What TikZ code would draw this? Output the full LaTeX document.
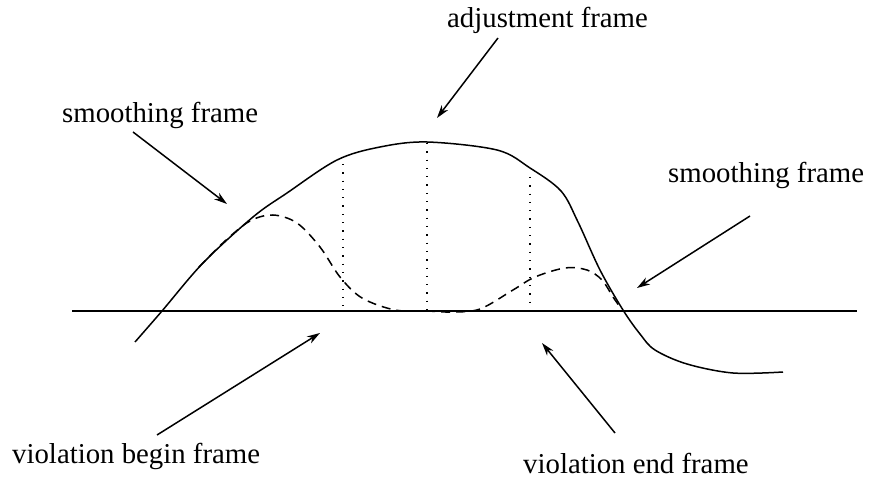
\documentclass[tikz,border=0pt]{standalone}
\usepackage{fontspec}
\setmainfont{Liberation Serif}
\usetikzlibrary{arrows.meta}
\tikzset{
  lbl/.style={inner sep=0pt, anchor=base west, font=\fontsize{28.9}{32}\selectfont},
  pointer/.style={line width=1.5bp, -{Stealth[length=13bp,width=8bp,inset=4bp]}},
  curve/.style={line width=1.5bp},
  dashcurve/.style={line width=1.5bp, dash pattern=on 9bp off 6bp},
  dotline/.style={line width=1.5bp, dash pattern=on 1.3bp off 7bp},
}
\begin{document}
\begin{tikzpicture}[x=1bp,y=-1bp]
\useasboundingbox (0,0) rectangle (869,480);
% axis
\coordinate (axL) at (72,311);
\coordinate (axR) at (857,311);
\draw[curve] (axL) -- (axR);
% solid curve
\draw[curve] plot[smooth, tension=0.55] coordinates {
 (135,342) (162,311) (203,263) (253,217) (287,193) (337,160) (380,147) (427,142)
 (497,150) (530,168) (561,191) (578,222) (600,270) (623,310) (640,334) (655,350)
 (687,364) (733,373) (783,372)};
% dashed curve
\draw[dashcurve] plot[smooth, tension=0.55] coordinates {
 (199,267) (225,241) (250,221) (273,215) (297,223) (320,247) (340,277) (362,298)
 (395,310) (427,311) (452,312) (480,309) (513,290) (535,277) (565,268) (587,270)
 (602,280) (613,297) (620,307)};
% dotted verticals
\coordinate (d1t) at (343,164); \coordinate (d1b) at (343,308);
\coordinate (d2t) at (427,143); \coordinate (d2b) at (427,310);
\coordinate (d3t) at (530,177); \coordinate (d3b) at (530,308);
\draw[dotline] (d1t) -- (d1b);
\draw[dotline] (d2t) -- (d2b);
\draw[dotline] (d3t) -- (d3b);
% labels
\node[lbl] (smL) at (62,123) {smoothing frame};
\node[lbl] (adj) at (447,28) {adjustment frame};
\node[lbl] (smR) at (668,183) {smoothing frame};
\node[lbl] (vb) at (12,463) {violation begin frame};
\node[lbl] (ve) at (523,473) {violation end frame};
% arrow ends
\coordinate (smLs) at (133,132); \coordinate (smLt) at (227,204);
\coordinate (adjs) at (498,38);  \coordinate (adjt) at (437,118);
\coordinate (smRs) at (750,216); \coordinate (smRt) at (637,288);
\coordinate (vbs) at (157,435);  \coordinate (vbt) at (320,333);
\coordinate (ves) at (615,433);  \coordinate (vet) at (542,343);
\draw[pointer] (smLs) -- (smLt);
\draw[pointer] (adjs) -- (adjt);
\draw[pointer] (smRs) -- (smRt);
\draw[pointer] (vbs) -- (vbt);
\draw[pointer] (ves) -- (vet);
\end{tikzpicture}
\end{document}
